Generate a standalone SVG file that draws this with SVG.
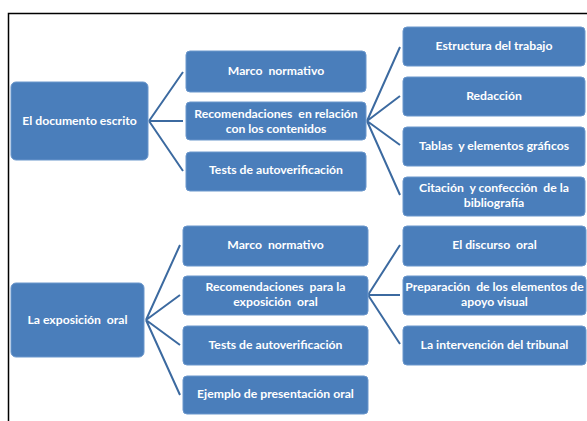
<svg xmlns="http://www.w3.org/2000/svg" width="587" height="421" viewBox="0 0 587 421">
<style>
.b{fill:#4a7ebb;stroke:#6b97cc;stroke-width:1}
.t{fill:#fff;font-family:Lato,"Liberation Sans",sans-serif;font-weight:bold;font-size:12.2px;text-anchor:middle;white-space:pre}
.c{stroke:#3c6aa0;stroke-width:2;fill:none}
</style>
<rect width="587" height="421" fill="#fff"/>
<path d="M8.5 421V13.5H587" stroke="#000" stroke-width="1.5" fill="none"/>
<g id="connectors">
<path class="c" d="M149 121L183 72M149 121H183M149 121L183 171"/>
<path class="c" d="M367 121L400 47M367 121L400 96M367 121L400 145M367 121L400 195"/>
<path class="c" d="M146 320L180 245M146 320L180 295M146 320L180 345M146 320L180 395"/>
<path class="c" d="M368 295L400 245M368 295H400M368 295L400 344"/>
</g>
<g id="n1"><rect class="b" x="11" y="82" width="137" height="78" rx="5"/><text class="t" x="79.5" y="125">El documento escrito</text></g>
<g id="n2"><rect class="b" x="186" y="51" width="180" height="41" rx="4"/><text class="t" x="276" y="75">Marco  normativo</text></g>
<g id="n3"><rect class="b" x="186" y="102" width="180" height="38" rx="4"/><text class="t" x="276" y="118">Recomendaciones  en relación</text><text class="t" x="276" y="133">con los contenidos</text></g>
<g id="n4"><rect class="b" x="186" y="152" width="180" height="39" rx="4"/><text class="t" x="276" y="174">Tests de autoverificación</text></g>
<g id="n5"><rect class="b" x="403" y="27" width="182" height="39" rx="4"/><text class="t" x="494" y="50">Estructura del trabajo</text></g>
<g id="n6"><rect class="b" x="403" y="77" width="182" height="39" rx="4"/><text class="t" x="494" y="100">Redacción</text></g>
<g id="n7"><rect class="b" x="403" y="127" width="182" height="39" rx="4"/><text class="t" x="494" y="150">Tablas  y elementos gráficos</text></g>
<g id="n8"><rect class="b" x="403" y="177" width="182" height="39" rx="4"/><text class="t" x="494" y="192">Citación  y confección  de la</text><text class="t" x="494" y="207">bibliografía</text></g>
<g id="n9"><rect class="b" x="11" y="283" width="133" height="74" rx="5"/><text class="t" x="77.5" y="324">La exposición  oral</text></g>
<g id="n10"><rect class="b" x="183" y="226" width="185" height="40" rx="4"/><text class="t" x="275.5" y="249">Marco  normativo</text></g>
<g id="n11"><rect class="b" x="183" y="276" width="185" height="39" rx="4"/><text class="t" x="275.5" y="291">Recomendaciones  para la</text><text class="t" x="275.5" y="306">exposición  oral</text></g>
<g id="n12"><rect class="b" x="183" y="326" width="185" height="39" rx="4"/><text class="t" x="275.5" y="349">Tests de autoverificación</text></g>
<g id="n13"><rect class="b" x="183" y="376" width="185" height="38" rx="4"/><text class="t" x="275.5" y="398">Ejemplo de presentación oral</text></g>
<g id="n14"><rect class="b" x="403" y="226" width="183" height="40" rx="4"/><text class="t" x="494.5" y="249">El discurso  oral</text></g>
<g id="n15"><rect class="b" x="403" y="276" width="183" height="39" rx="4"/><text class="t" x="494.5" y="291">Preparación  de los elementos de</text><text class="t" x="494.5" y="306">apoyo visual</text></g>
<g id="n16"><rect class="b" x="403" y="326" width="183" height="39" rx="4"/><text class="t" x="494.5" y="349">La intervención del tribunal</text></g>
</svg>
